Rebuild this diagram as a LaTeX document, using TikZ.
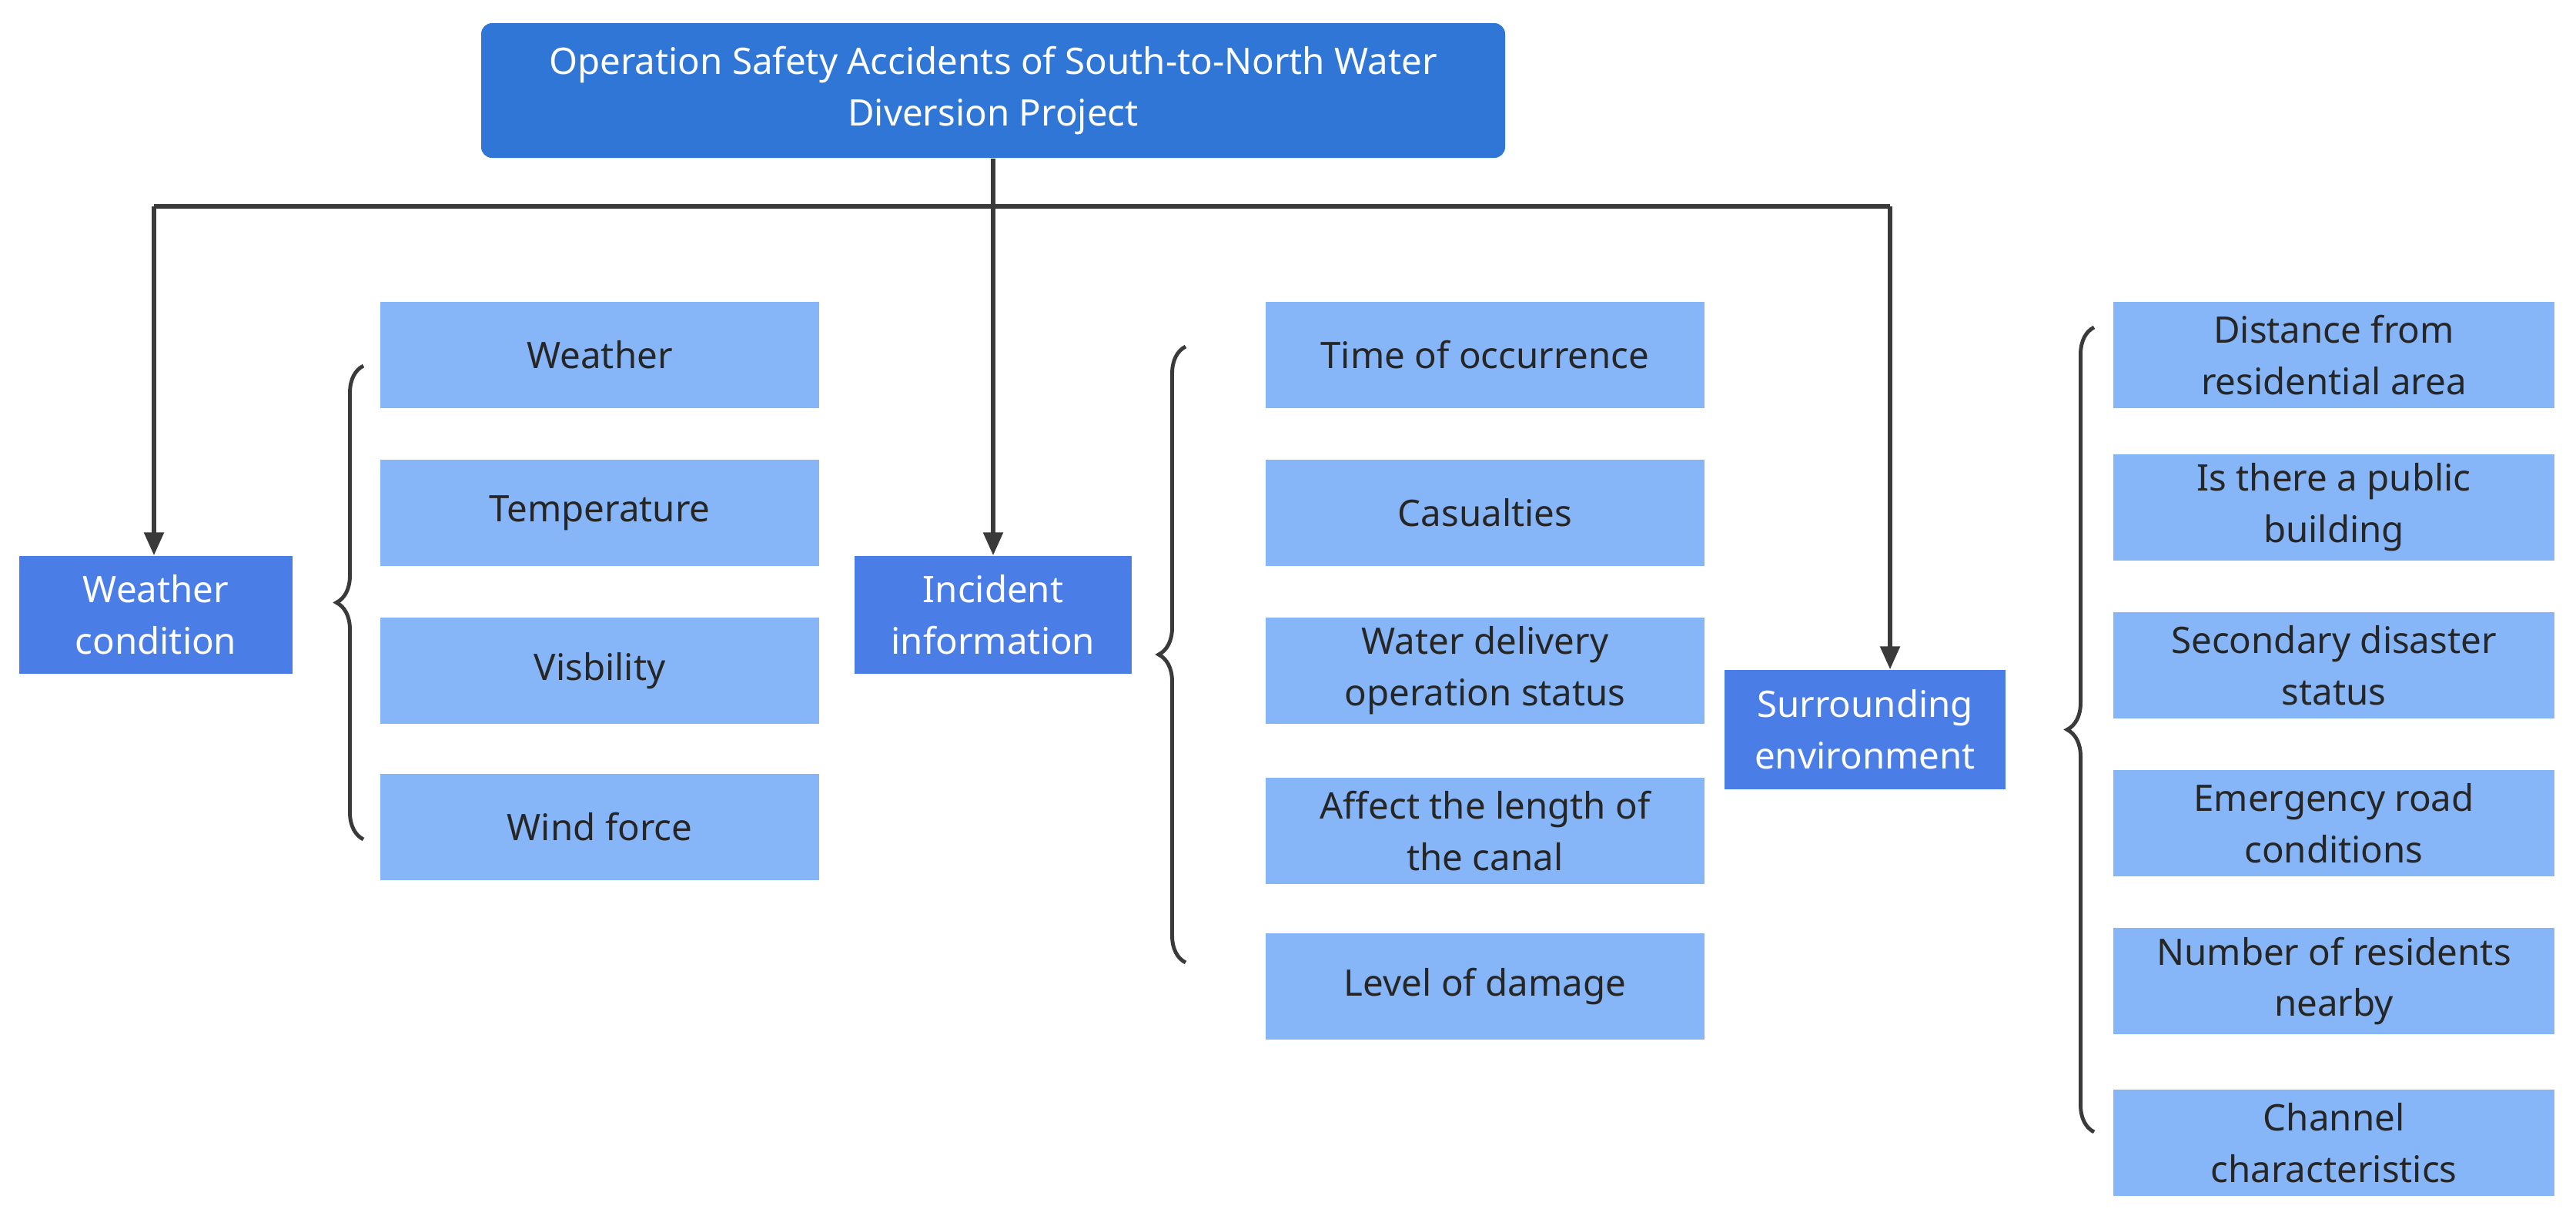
\documentclass[tikz,border=0pt]{standalone}
\usepackage{fontspec}
\setmainfont{Noto Sans}
\usetikzlibrary{decorations.pathreplacing,arrows.meta}
\definecolor{topc}{HTML}{2F76D6}
\definecolor{midc}{HTML}{4A7DE6}
\definecolor{leafc}{HTML}{86B6F7}
\definecolor{linec}{HTML}{3A3A3A}
\tikzset{
 top/.style={fill=topc,rounded corners=4pt,text=white,align=center,inner sep=0pt,font=\fontsize{13.5pt}{19pt}\selectfont},
 mid/.style={fill=midc,text=white,align=center,inner sep=0pt,font=\fontsize{13.5pt}{19pt}\selectfont},
 leaf/.style={fill=leafc,text=black!85,align=center,inner sep=0pt,minimum width=5.7cm,minimum height=1.38cm,font=\fontsize{13.5pt}{19pt}\selectfont},
 conn/.style={draw=linec,line width=1.6pt},
 arr/.style={conn,-{Triangle[length=0.3cm,width=0.25cm]}},
 br/.style={draw=linec,line width=1.4pt,decorate,decoration={brace,amplitude=0.35cm}}
}
\begin{document}
\begin{tikzpicture}[x=1cm,y=-1cm]
\useasboundingbox (0,0) rectangle (33.46,15.95);
\node[top,minimum width=13.3cm,minimum height=1.75cm] (root) at (12.9,1.175) {Operation Safety Accidents of South-to-North Water\\Diversion Project};
\node[mid,minimum width=3.55cm,minimum height=1.53cm] (wc) at (2.025,7.985) {Weather\\condition};
\node[mid,minimum width=3.6cm,minimum height=1.53cm] (ii) at (12.9,7.985) {Incident\\information};
\node[mid,minimum width=3.65cm,minimum height=1.55cm] (se) at (24.225,9.475) {Surrounding\\environment};
\coordinate (j) at (12.9,2.68);
\coordinate (jl) at (2.0,2.68);
\coordinate (jr) at (24.55,2.68);
\draw[conn] (root.south) -- (j);
\draw[conn] (jl) -- (jr);
\draw[arr] (jl) -- (jl |- wc.north);
\draw[arr] (j) -- (ii.north);
\draw[arr] (jr) -- (jr |- se.north);
% weather leaves
\node[leaf] (w1) at (7.79,4.61) {Weather};
\node[leaf] (w2) at (7.79,6.66) {Temperature};
\node[leaf] (w3) at (7.79,8.71) {Visbility};
\node[leaf] (w4) at (7.79,10.74) {Wind force};
\coordinate (wb1) at (4.72,10.9);
\coordinate (wb2) at (4.72,4.75);
\draw[br] (wb1) -- (wb2);
% incident leaves
\node[leaf] (i1) at (19.29,4.61) {Time of occurrence};
\node[leaf] (i2) at (19.29,6.66) {Casualties};
\node[leaf] (i3) at (19.29,8.71) {Water delivery\\operation status};
\node[leaf] (i4) at (19.29,10.79) {Affect the length of\\the canal};
\node[leaf] (i5) at (19.29,12.81) {Level of damage};
\coordinate (ib1) at (15.4,12.5);
\coordinate (ib2) at (15.4,4.5);
\draw[br] (ib1) -- (ib2);
% surrounding leaves
\node[leaf,minimum width=5.73cm] (s1) at (30.315,4.61) {Distance from\\residential area};
\node[leaf,minimum width=5.73cm] (s2) at (30.315,6.59) {Is there a public\\building};
\node[leaf,minimum width=5.73cm] (s3) at (30.315,8.64) {Secondary disaster\\status};
\node[leaf,minimum width=5.73cm] (s4) at (30.315,10.69) {Emergency road\\conditions};
\node[leaf,minimum width=5.73cm] (s5) at (30.315,12.74) {Number of residents\\nearby};
\node[leaf,minimum width=5.73cm] (s6) at (30.315,14.84) {Channel\\characteristics};
\coordinate (sb1) at (27.2,14.7);
\coordinate (sb2) at (27.2,4.25);
\draw[br] (sb1) -- (sb2);
\end{tikzpicture}
\end{document}
